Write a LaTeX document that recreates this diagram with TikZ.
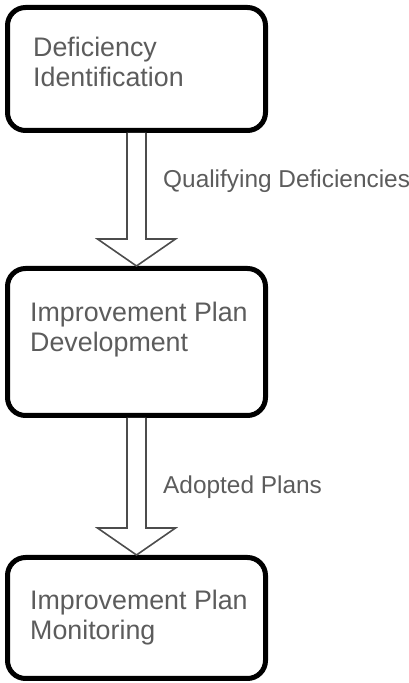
\documentclass[tikz,border=0pt]{standalone}
\usepackage{fontspec}
\setmainfont{Liberation Sans}
\usepackage{tikz}
\usetikzlibrary{calc,positioning}

\begin{document}
\begin{tikzpicture}[x=1pt, y=1pt,
  stage/.style={draw=black, line width=5pt, rounded corners=18pt, fill=white,
    minimum width=258pt, inner sep=0pt},
  stagetext/.style={anchor=north west, inner sep=0pt, align=left, text=black!64,
    font=\fontsize{26.8}{30}\selectfont},
  flowlabel/.style={anchor=west, inner sep=0pt, text=black!64,
    font=\fontsize{24.4}{28}\selectfont},
  flow/.style={draw=black!70, line width=1.6pt, fill=white, line join=miter}]
\useasboundingbox (0,0) rectangle (409,683);
\node[stage, minimum height=123pt] (ident) at (136.5,614) {};
\node[stage, minimum height=147pt] (dev) at (136.5,341) {};
\node[stage, minimum height=121pt] (mon) at (136.5,65) {};
\node[stagetext] (identtxt) at ([shift={(28,-32)}]ident.north west) {Deficiency\\Identification};
\node[stagetext] (devtxt) at ([shift={(25,-36)}]dev.north west) {Improvement Plan\\Development};
\node[stagetext] (montxt) at ([shift={(25,-35)}]mon.north west) {Improvement Plan\\Monitoring};
% hollow arrows between the stages
\foreach \a/\b in {ident/dev, dev/mon}
  \draw[flow] ([xshift=-9.5]\a.south) -- ([shift={(-9.5,27)}]\b.north)
    -- ([shift={(-39,27)}]\b.north) -- (\b.north) -- ([shift={(39,27)}]\b.north)
    -- ([shift={(9.5,27)}]\b.north) -- ([xshift=9.5]\a.south);
\node[flowlabel] (qual) at (163,502) {Qualifying Deficiencies};
\node[flowlabel] (adopt) at (163,196) {Adopted Plans};
\end{tikzpicture}
\end{document}
